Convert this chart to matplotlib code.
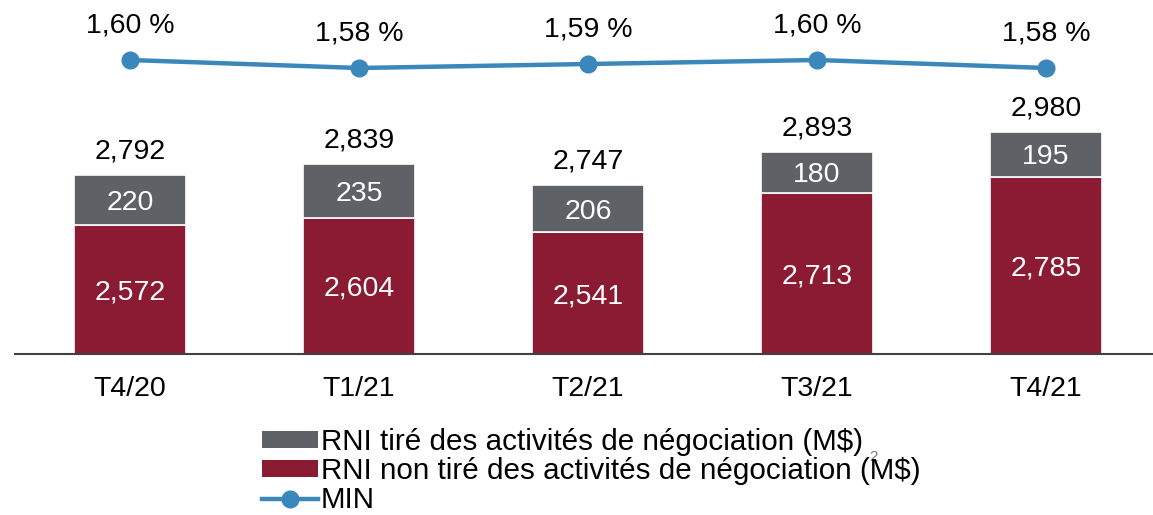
import matplotlib
matplotlib.use("Agg")
import matplotlib.pyplot as plt
from matplotlib.lines import Line2D
from matplotlib.patches import Patch

plt.rcParams['font.family'] = ['Liberation Sans', 'DejaVu Sans']

categories = ["T4/20", "T1/21", "T2/21", "T3/21", "T4/21"]
non_trading = [2572, 2604, 2541, 2713, 2785]
trading = [220, 235, 206, 180, 195]
totals = [2792, 2839, 2747, 2893, 2980]
nim = [1.60, 1.58, 1.59, 1.60, 1.58]
nim_labels = ["1,60 %", "1,58 %", "1,59 %", "1,60 %", "1,58 %"]

def fmt(v):
    return f"{v:,}"

MAROON = "#8B1A33"
GRAY = "#5E6266"
BLUE = "#3A87BB"

W, H = 1153, 515
YMIN, YMAX = 2009, 3557
fig = plt.figure(figsize=(W / 100, H / 100), dpi=100)
ax = fig.add_axes([15 / W, 1 - 354 / H, (W - 15) / W, 354 / H])
x = list(range(len(categories)))
ax.bar(x, non_trading, width=0.49, color=MAROON, edgecolor="white", linewidth=1.2, zorder=1)
ax.bar(x, trading, width=0.49, bottom=non_trading, color=GRAY, edgecolor="white", linewidth=1.2, zorder=1)
ax.set_ylim(YMIN, YMAX)
ax.set_xlim(-0.502, 4.467)

fs = 20.5
VA = "center_baseline"
for i in x:
    mid_nt = (YMIN + non_trading[i]) / 2
    ax.text(i, mid_nt, fmt(non_trading[i]), ha="center", va=VA, color="white", fontsize=fs)
    mid_t = non_trading[i] + trading[i] / 2
    ax.text(i, mid_t, fmt(trading[i]), ha="center", va=VA, color="white", fontsize=fs)
    ax.annotate(fmt(totals[i]), (i, non_trading[i] + trading[i]), xytext=(0, 19),
                textcoords="offset points", ha="center", va=VA, fontsize=fs, color="black")

for s in ["top", "right", "left"]:
    ax.spines[s].set_visible(False)
ax.spines["bottom"].set_color("#404040")
ax.spines["bottom"].set_linewidth(1.5)
ax.set_yticks([])
ax.set_xticks(x)
ax.set_xticklabels(categories, fontsize=fs)
ax.tick_params(axis="x", length=0, pad=16)

ax2 = ax.twinx()
ax2.set_ylim(0.865, 1.75)
ax2.plot(x, nim, color=BLUE, linewidth=3.2, marker="o", markersize=12, zorder=3)
for i in x:
    ax2.annotate(nim_labels[i], (i, nim[i]), xytext=(0, 27), textcoords="offset points",
                 ha="center", va=VA, fontsize=fs, color="black")
ax2.set_axis_off()

handles = [
    Patch(facecolor=GRAY, edgecolor="none"),
    Patch(facecolor=MAROON, edgecolor="none"),
    Line2D([0], [0], color=BLUE, linewidth=3.2, marker="o", markersize=12),
]
labels = ["RNI tiré des activités de négociation (M$)",
          "RNI non tiré des activités de négociation (M$)",
          "MIN"]
fig.legend(handles, labels, loc="upper left", bbox_to_anchor=(262 / W, 1 - 428 / H),
           frameon=False, fontsize=21.3, handlelength=1.9, handleheight=0.5,
           handletextpad=0.08, labelspacing=0.04, borderpad=0, borderaxespad=0)

fig.text(874 / W, 1 - 457 / H, "2", fontsize=11, color="#7A7A7A", ha="center", va="center")

fig.savefig("out.png", dpi=100)
